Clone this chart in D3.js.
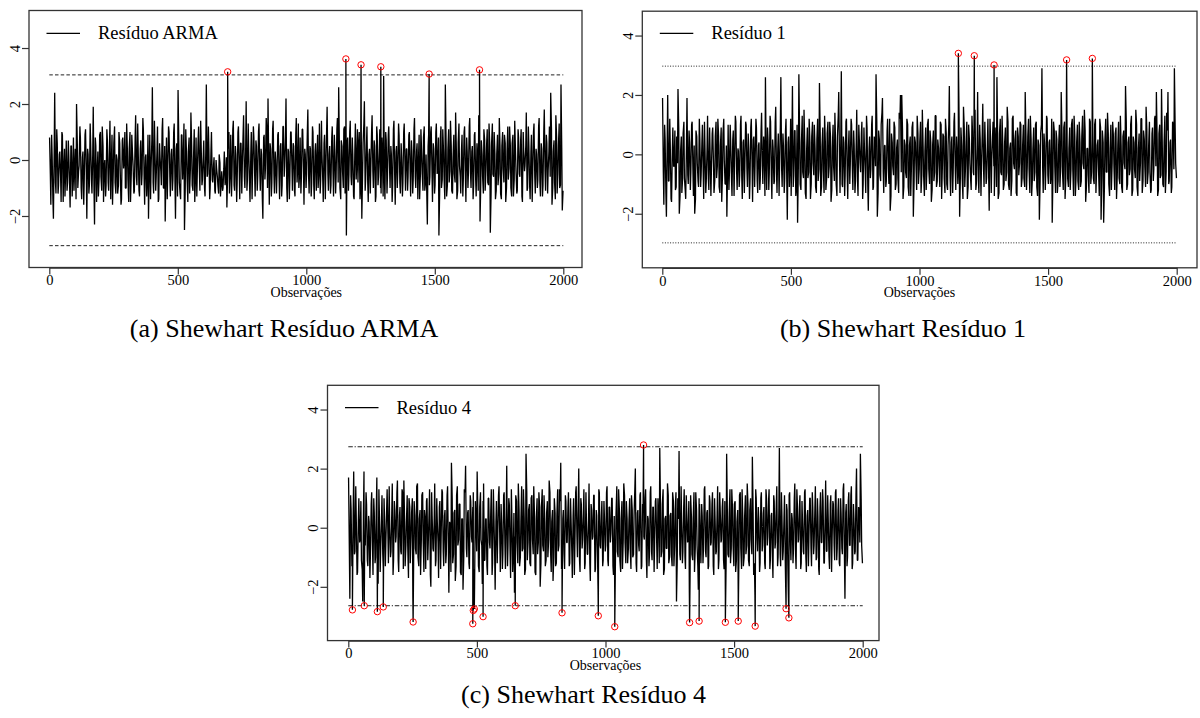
<!DOCTYPE html>
<html><head><meta charset="utf-8">
<script src="https://cdn.jsdelivr.net/npm/d3@7"></script>
<style>
html,body{margin:0;padding:0;background:#fff;}
svg{display:block;}
svg text{font-family:"Liberation Serif","Times New Roman",Times,serif !important;fill:#000;}
</style></head>
<body>
<svg id="chart" width="1200" height="718"></svg>
<script>
// ---------- data ----------
const xTicks = [0, 500, 1000, 1500, 2000];
const yTicks = [-2, 0, 2, 4];
const stepA = 5, startA = 1;   // first array: observations 1, 6, 11, ...
const stepB = 5, startB = 4;   // second array: observations 4, 9, 14, ...

const residuoARMA = [
0.8,-1.6,0.2,-2.1,2.4,-1.2,0.6,-0.9,0.3,-1.5,0.9,-0.4,-1.3,0.7,-0.8,0.1,-1.7,0.5,-0.6,-1.1,
0.4,2.0,-1.0,-0.2,0.8,-1.4,0.3,-0.7,1.1,-2.1,0.2,-0.9,0.6,-1.2,1.9,-2.3,0.5,-0.5,-1.3,0.9,
-0.6,1.2,-1.5,0.0,-0.9,0.7,-1.1,1.4,-0.3,-1.6,0.6,-0.8,0.2,-1.2,1.0,-0.4,-1.4,0.8,-0.1,-1.0,
1.3,-0.7,0.4,-1.5,0.9,-0.2,-1.1,1.6,-0.9,0.3,-1.3,0.7,-0.5,1.1,-1.6,0.2,-0.8,-2.1,0.9,-0.3,
2.6,-1.2,0.5,-0.6,1.2,-1.4,0.1,-0.9,1.5,-1.0,-2.2,0.8,-0.3,1.0,-1.3,0.4,-0.7,1.3,-2.1,0.6,
2.5,-0.8,-1.4,0.9,-0.2,-2.5,1.1,-0.6,0.3,-1.2,1.7,-0.9,0.0,-1.5,0.8,-0.4,1.2,-1.1,0.5,-0.7,
0.7,-1.3,2.7,-0.5,0.4,-1.0,1.0,-0.8,0.1,-1.2,-0.3,-0.9,0.2,-1.3,-0.4,-1.0,0.3,-0.7,-1.7,0.4,
-1.2,0.9,-0.5,1.4,-1.1,0.2,-0.8,1.2,-1.4,0.6,-0.2,1.6,-1.0,2.1,-0.7,0.3,-1.5,1.0,-0.4,0.8,
-1.3,0.5,-0.6,1.3,-1.1,0.2,-2.1,0.9,-0.3,1.1,2.2,-1.6,0.4,-0.8,1.4,-1.2,0.0,-0.5,1.0,-1.4,
0.6,-0.9,1.2,-0.2,2.2,-1.5,0.3,-0.7,1.0,-1.1,0.5,-1.3,1.5,-0.4,-1.0,0.8,-0.6,1.1,-1.6,0.2,
-0.5,1.8,-1.2,0.4,-0.8,1.0,-1.4,0.6,-0.1,-1.0,1.3,-0.7,0.2,-1.5,0.9,-0.3,1.9,-1.1,0.5,-0.9,
1.2,-1.3,0.3,-0.6,1.5,2.6,-1.0,0.7,-0.4,1.1,-1.2,-2.7,0.8,-0.5,1.4,-0.9,0.2,-1.4,1.3,-0.2,
-0.8,1.0,-1.1,-2.1,0.6,2.1,-0.7,1.2,-1.5,0.4,-0.3,1.6,-1.0,0.5,-1.3,0.9,-0.6,1.1,-1.2,0.3,
3.0,-1.4,0.7,-0.5,1.2,-1.0,0.2,-0.9,1.4,-1.6,0.5,-0.4,0.9,-1.2,0.1,-0.8,1.3,-1.1,0.4,-0.6,
1.0,-1.3,0.3,-0.7,1.5,-1.0,0.6,-0.2,-1.4,1.1,-0.5,0.8,-1.1,0.2,-2.3,0.9,-0.6,1.2,-1.5,0.4,
-0.9,1.3,-0.3,-2.7,0.7,-1.0,1.1,-0.6,2.7,-1.3,0.4,-0.8,1.4,-1.1,0.1,-0.5,1.7,-1.4,0.6,-0.2,
-1.2,0.9,-0.7,1.2,-1.5,0.3,-0.4,1.5,-1.0,0.5,-0.9,1.0,-1.3,0.2,1.6,-2.2,0.7,-0.6,1.1,-1.1,
0.4,-0.8,1.3,-2.6,0.6,-0.5,1.0,-1.4,0.2,-0.9,1.5,-1.2,0.5,-0.3,0.9,-1.5,0.3,-0.7,1.2,-1.0,
0.6,-1.3,1.4,-0.4,-1.1,0.8,-0.6,1.1,-1.5,0.3,-0.2,1.7,-1.0,0.5,-1.4,0.9,-0.5,1.3,-1.2,0.2,
-0.7,1.5,-1.3,0.4,-0.9,1.8,-1.1,0.6,-0.4,1.2,2.4,-1.6,0.3,-0.8,1.6,-1.2,0.5,-1.0,2.7,-1.8
];
const residuoARMAb = [
-0.5,0.9,-1.4,0.3,-0.8,1.1,-1.2,0.2,-0.6,1.0,-1.5,0.4,-0.3,-1.1,0.7,-0.9,0.5,-1.3,0.8,-0.2,
-1.4,0.6,-0.4,1.2,-1.0,0.1,-1.6,0.9,-0.5,0.4,-1.2,1.3,-0.7,0.2,-1.1,0.8,-1.5,0.3,-0.6,1.0,
-1.1,0.5,-0.2,-1.3,1.1,-0.8,0.4,-1.4,0.9,-0.4,1.2,-1.2,0.0,-0.9,0.6,-1.6,0.7,-0.3,1.0,-1.0,
0.3,-1.5,1.0,-0.5,0.2,-1.2,0.8,-0.6,1.3,-1.1,0.4,-0.9,1.5,-0.7,0.1,-1.3,0.9,-0.2,-1.4,0.7,
-0.8,1.4,-1.1,0.3,-1.5,0.6,-0.4,1.1,-1.0,0.5,-0.3,-1.4,1.2,-0.6,0.2,-1.1,1.0,-0.8,0.4,-1.3,
0.6,-1.2,0.9,-0.7,1.3,-1.0,0.2,-1.5,0.8,-0.3,0.5,-1.1,1.1,-0.6,-1.3,0.7,-0.4,1.4,-0.9,0.1,
-1.0,0.4,-0.6,1.2,-1.4,0.3,-0.7,-0.2,-1.1,0.0,-0.6,-1.2,-0.1,-0.8,-1.1,-0.3,-0.9,0.1,-0.5,1.0,
-0.4,-1.3,1.1,-0.9,0.5,-1.5,1.0,-0.3,0.6,-1.2,0.9,-0.6,0.3,-1.1,1.3,-0.8,0.2,-1.4,1.2,-0.5,
0.7,-1.1,1.0,-0.4,0.4,-1.4,0.8,-0.7,1.5,-1.0,-0.2,0.6,-1.3,1.1,-0.5,0.3,-1.2,0.9,-0.6,0.5,
-1.3,1.2,-0.6,0.8,-1.0,0.4,-1.4,1.0,-0.2,0.6,-1.1,0.9,-0.8,1.3,-0.5,-1.2,1.1,-0.3,0.4,-1.0,
1.0,-0.6,0.5,-1.3,1.2,-0.9,0.3,-1.1,0.9,-0.4,-1.2,1.4,-0.7,0.6,-1.4,1.0,-0.5,0.2,-1.2,0.8,
-0.5,0.9,-1.2,1.1,-0.8,0.3,-1.4,0.5,-1.0,1.2,-0.3,0.6,-1.1,1.0,-0.6,0.8,-1.3,0.4,-0.7,1.1,
0.6,-1.4,0.8,-0.5,1.3,-1.1,0.5,-0.8,0.2,-1.2,1.0,-0.4,0.7,-1.5,1.2,-0.9,0.4,-1.0,0.8,-1.3,
-0.7,1.0,-1.2,0.9,-0.3,0.5,-1.5,1.1,-0.6,0.3,-1.0,1.3,-0.8,0.6,-1.3,1.0,-0.2,0.4,-1.1,0.9,
-0.4,0.7,-1.2,1.1,-0.6,0.3,-1.4,0.9,-0.5,0.2,-1.1,1.2,-0.8,-1.3,0.5,-0.9,1.0,-0.4,0.6,-1.2,
1.0,-0.5,0.8,-1.1,1.2,-0.7,0.3,-1.4,0.6,-0.9,1.1,-0.4,0.5,-1.2,0.9,-0.8,0.3,-1.1,1.3,-0.6,
0.4,-1.3,1.0,-0.6,0.8,-1.0,1.2,-0.5,0.3,-1.4,0.9,-0.7,0.6,-1.1,1.1,-0.8,0.2,-1.2,0.7,-0.4,
1.1,-0.9,0.5,-1.2,1.3,-0.6,0.2,-1.1,0.9,-0.5,0.4,-1.4,1.0,-0.8,0.6,-1.0,1.2,-0.3,0.5,-1.3,
0.9,-0.7,0.3,-1.2,1.1,-0.5,0.7,-1.3,1.0,-0.4,0.5,-1.1,1.2,-0.9,0.3,-1.5,1.0,-0.6,0.4,-1.0,
1.2,-0.8,0.6,-1.3,1.0,-0.4,0.9,-1.2,0.3,-0.6,1.1,-1.0,0.7,-1.4,0.8,-0.5,1.3,-0.9,0.4,-1.1
];
const residuo1 = [
1.9,-1.7,0.5,-2.1,2.0,-0.9,0.3,-1.6,0.9,-0.4,-1.2,0.6,2.2,-2.0,0.1,-1.3,0.7,-0.8,-1.5,1.9,
-1.0,0.4,-0.6,1.1,-1.4,-2.0,0.8,-0.3,-1.1,0.5,-0.7,1.0,-1.5,0.2,-0.9,1.3,-1.2,0.0,-0.5,0.9,
-1.3,0.6,-0.8,1.2,-1.1,0.3,-1.6,0.7,-0.2,-1.0,-2.1,1.0,-0.6,0.4,-1.4,0.8,-0.3,1.1,-1.2,0.1,
-0.7,1.3,-1.5,0.5,-0.4,1.0,-1.1,0.2,-0.9,1.2,-1.6,0.6,-0.2,0.9,-1.3,0.4,-0.8,1.4,-1.0,0.3,
2.6,-1.2,0.5,-0.6,1.1,-1.5,0.2,-0.9,1.6,-1.3,0.7,-0.4,2.6,-1.1,0.3,-0.8,1.2,-2.2,0.6,-0.5,
-1.4,2.3,-0.7,0.8,-1.2,-2.3,2.7,-1.0,0.4,-0.6,1.5,-1.3,0.1,-0.8,1.2,-1.5,0.6,-0.3,1.0,-1.1,
0.5,-0.9,2.4,-1.4,0.3,-0.5,1.3,-1.2,0.7,-0.8,1.1,-1.6,0.2,-0.4,1.4,-1.0,0.6,2.1,-1.3,2.8,
-1.1,0.4,-0.7,1.2,-1.5,0.8,-0.3,1.0,-1.2,0.3,-0.9,1.5,-1.4,0.5,-0.6,1.1,-1.0,0.2,-1.3,0.9,
-1.9,0.6,-0.5,1.3,-1.1,0.4,2.7,-2.1,0.8,-0.7,1.0,1.9,-1.3,0.3,-0.9,1.2,-1.0,-1.9,0.7,-0.4,
1.1,-1.2,0.2,-0.8,1.4,2.0,2.0,-1.5,0.5,-0.6,1.2,-1.1,0.3,-1.4,0.9,-2.1,0.6,-0.3,1.3,-1.0,
0.4,-1.3,1.5,-0.7,0.1,-1.2,1.0,-0.5,0.8,-1.6,0.3,-0.9,1.3,-1.1,0.5,-0.4,1.1,-1.5,0.7,-0.8,
1.2,-1.0,0.3,2.3,-1.4,0.6,-0.6,1.4,-1.2,0.2,-0.5,-2.1,0.9,-0.8,1.6,-1.1,0.4,-1.5,1.0,-0.3,
-1.2,0.8,-0.7,1.5,-1.0,2.1,-1.3,0.5,-0.4,1.7,-1.1,0.3,-0.8,1.2,-1.9,0.6,-0.2,1.1,-1.4,0.4,
2.6,-1.5,0.7,-0.6,1.3,-1.2,0.4,-0.9,1.6,-1.0,0.2,-1.4,1.2,-0.3,0.5,-1.3,0.9,-0.7,1.1,-1.1,
0.3,-0.8,2.1,-1.2,0.6,-0.5,1.3,-1.4,0.2,-0.9,1.0,-1.1,0.5,-2.2,0.7,2.9,-1.3,0.4,-0.6,1.2,
-1.0,0.5,-0.7,-2.3,1.1,-0.4,0.8,-1.3,0.3,-1.1,2.1,-0.6,0.9,-1.5,1.4,-0.8,0.2,-1.2,1.0,-0.5,
1.3,-1.4,0.4,-0.9,1.1,-1.1,0.6,-0.3,1.5,-1.6,0.2,-0.7,1.2,-1.0,0.5,-0.8,1.0,-1.3,0.3,-0.5,
1.2,-2.2,0.8,-2.3,0.5,-0.6,1.4,-1.0,0.2,-1.2,1.1,-0.4,0.7,-1.5,0.3,-0.8,1.3,-1.1,0.6,-0.3,
2.3,-1.2,0.4,-0.7,1.0,-1.4,0.6,-0.5,1.5,-1.1,0.2,-0.9,1.2,-1.3,0.8,-0.4,1.6,-1.0,0.3,-0.6,
-1.2,0.9,-0.5,1.3,2.1,-1.4,0.7,-0.8,2.2,-1.0,0.4,-1.3,1.4,2.1,-0.9,0.5,-1.1,1.0,2.9,-0.3
];
const residuo1b = [
-0.6,1.0,-1.3,0.4,-0.9,1.2,-1.5,0.1,-0.4,0.8,-1.1,-0.3,0.9,-1.4,0.6,-0.8,1.1,-1.2,0.3,-0.7,
0.8,-1.2,1.0,-0.5,0.3,-1.5,0.6,-0.9,1.2,-1.1,0.4,-0.6,1.1,-1.3,0.2,-0.8,0.9,-1.4,0.7,-0.3,
-0.9,1.1,-0.4,0.6,-1.3,0.9,-0.7,1.2,-1.0,0.3,-0.5,-1.2,1.0,-0.8,0.5,-1.4,1.3,-0.6,0.2,-1.1,
1.0,-0.8,0.4,-1.3,1.1,-0.5,0.7,-1.5,0.9,-0.3,0.5,-1.1,1.2,-0.9,0.3,-1.2,0.8,-0.4,0.6,-1.4,
-0.3,0.9,-1.2,1.3,-0.7,0.5,-1.0,1.1,-0.6,0.2,-1.4,1.0,-0.5,0.7,-1.3,0.8,-0.9,0.4,-1.1,1.2,
0.5,-1.1,0.8,-1.4,1.0,-0.4,0.6,-1.2,1.3,-0.8,0.3,-1.5,0.9,-0.6,0.4,-1.0,1.1,-0.7,0.2,-1.3,
1.2,-0.5,0.7,-1.1,0.9,-1.3,0.4,-0.8,1.1,-0.4,0.6,-1.2,1.0,-0.9,0.3,-1.4,1.3,-0.2,0.5,-1.0,
0.6,-1.4,1.1,-0.7,0.3,-1.0,1.2,-0.5,0.8,-1.3,0.4,-0.9,1.0,-0.3,0.7,-1.5,0.9,-0.6,1.3,-1.1,
0.2,-0.8,1.0,-1.2,0.6,-0.4,1.1,-1.3,0.5,-0.9,1.4,-0.6,0.3,-1.1,0.8,-0.5,1.2,-1.4,0.4,-0.7,
0.9,-1.0,0.5,-1.3,1.2,-0.6,0.8,-1.1,0.3,-0.8,1.0,-1.4,0.6,-0.3,1.1,-0.9,0.4,-1.2,0.7,-0.5,
1.1,-0.7,0.3,-1.4,0.9,-0.5,1.2,-1.0,0.4,-1.2,0.8,-0.6,1.3,-0.9,0.2,-1.1,1.0,-0.4,0.6,-1.3,
0.7,-1.2,1.0,-0.8,0.4,-1.3,1.1,-0.5,0.6,-1.0,1.2,-0.7,0.3,-1.5,0.9,-0.4,1.1,-1.1,0.5,-0.9,
1.3,-0.6,0.8,-1.2,0.2,-0.9,1.0,-1.4,0.7,-0.5,1.1,-1.0,0.4,-0.8,1.2,-1.3,0.6,-0.4,0.9,-1.1,
0.5,-1.3,1.2,-0.7,0.3,-1.0,0.9,-0.6,1.1,-1.2,0.4,-0.9,1.3,-0.5,0.8,-1.4,0.6,-0.3,1.0,-0.8,
1.0,-1.1,0.6,-0.4,1.2,-1.3,0.5,-0.8,0.9,-0.6,1.1,-1.4,0.3,-0.9,1.0,-0.5,0.7,-1.2,1.3,-0.7,
0.4,-1.0,1.2,-0.6,0.8,-1.3,0.5,-0.9,1.0,-0.4,0.7,-1.2,1.1,-0.8,0.3,-1.1,0.9,-0.5,1.2,-1.4,
0.6,-0.7,1.0,-1.2,0.4,-0.9,1.3,-0.5,0.8,-1.1,0.2,-1.3,1.1,-0.6,0.7,-1.0,1.2,-0.4,0.5,-1.4,
0.9,-0.8,0.4,-1.1,1.2,-0.6,0.7,-1.4,1.0,-0.3,0.6,-1.2,0.9,-0.7,1.1,-1.0,0.3,-1.3,0.8,-0.5,
1.1,-1.0,0.6,-0.5,1.3,-1.2,0.4,-0.8,1.0,-1.4,0.7,-0.3,1.2,-0.9,0.5,-1.1,0.8,-0.6,1.1,-1.3,
0.7,-0.9,1.2,-0.4,0.5,-1.2,1.0,-0.7,0.3,-1.1,1.3,-0.6,0.8,-1.0,0.4,-1.3,1.1,-0.5,0.9,-0.8
];
const residuo4 = [
1.7,-2.4,0.6,-1.2,1.9,-0.8,0.3,-1.5,1.0,-0.4,-1.1,-2.5,1.9,-0.6,0.8,-1.3,0.2,-0.9,1.2,-1.6,
0.5,-1.0,1.7,-1.9,0.4,-0.7,1.1,-1.4,0.3,-0.5,1.3,-1.2,0.0,-0.8,1.5,-1.1,0.6,-0.3,1.6,-1.5,
0.7,-0.9,1.2,1.6,-1.3,0.2,-0.6,1.0,-1.2,0.5,-2.4,0.9,-0.7,1.4,-1.0,0.3,-1.6,1.1,-0.4,0.6,
-1.4,1.0,-0.5,1.3,-2.0,0.4,-0.8,1.5,-1.1,0.2,-1.7,0.9,-0.3,1.2,-1.3,0.6,-0.9,1.4,-2.2,0.1,
2.2,-1.2,0.5,-1.8,1.1,-0.6,0.8,-1.5,0.3,-2.1,1.3,2.1,-1.0,0.6,-1.4,0.9,-0.5,1.2,-2.0,0.4,
1.9,-1.3,0.7,-0.4,-1.9,1.5,-1.1,0.3,-1.6,1.0,-0.7,1.3,-1.2,0.5,-2.1,0.9,-0.3,1.4,-1.5,0.2,
-0.9,1.2,-1.4,2.1,-0.6,0.8,-1.7,0.4,-1.0,-2.2,1.1,-0.5,1.5,-1.3,0.2,-0.8,1.3,-1.6,2.5,-1.1,
0.6,-1.2,1.0,-0.4,1.4,-1.5,0.3,-0.9,1.2,-2.0,0.7,-0.6,1.1,-1.3,0.5,-1.0,1.6,-0.7,0.2,-1.8,
1.0,-1.3,0.4,-0.8,1.3,2.2,-1.1,0.6,-1.4,0.9,-0.5,1.2,-1.2,0.3,-1.7,1.0,-0.6,1.4,-1.0,2.0,
-1.5,0.8,-0.4,1.3,-1.2,0.2,-0.9,1.5,-1.8,0.6,-0.3,1.1,-1.4,0.4,-2.1,1.2,-0.7,0.9,-1.1,0.3,
-0.6,1.4,-1.3,0.7,-0.2,1.0,-1.6,-2.4,0.5,-0.8,1.3,-1.1,0.3,-1.4,1.5,-0.5,0.9,-1.2,0.2,-0.7,
1.1,-1.0,0.4,2.0,-1.5,0.6,-0.8,1.2,-1.3,0.5,-0.4,1.3,-1.7,0.3,-0.9,1.4,-1.1,0.7,-0.5,1.0,
-1.4,0.5,2.7,-1.0,0.8,-1.6,0.3,-0.7,1.5,-1.2,0.4,-0.9,1.2,-1.3,0.6,-2.5,1.0,2.6,-1.1,0.2,
-0.8,1.3,-1.4,0.5,-0.4,-2.2,1.1,-0.9,0.3,-1.5,1.2,-0.6,-2.1,0.8,-1.2,0.4,-0.7,1.4,-1.0,0.6,
-1.3,0.9,-0.5,1.2,-1.6,0.3,-0.8,1.4,-1.1,0.6,-0.4,1.0,-1.4,-2.3,2.5,-0.9,0.5,-1.2,1.3,-0.6,
0.8,-1.5,0.2,-2.2,1.1,-0.7,1.3,-1.3,0.4,-0.9,1.5,-1.1,0.6,-0.4,2.4,-1.6,-2.3,1.0,-0.8,0.3,
-1.2,1.2,-0.6,0.7,-1.4,1.0,-0.3,1.3,-1.1,0.5,-1.7,0.9,-0.5,1.4,-1.0,2.7,-1.3,0.4,-0.8,1.1,
-2.2,0.6,-2.3,1.2,-1.1,0.3,-0.7,1.5,-1.4,0.8,-0.4,1.1,-1.2,0.2,-0.9,1.3,-1.5,0.6,-0.3,1.0,
-1.3,0.7,-0.6,1.4,-1.0,0.4,-1.6,1.2,-0.5,0.9,-1.2,1.6,-0.8,0.3,-1.4,1.1,-0.4,0.8,-1.1,1.3,
-0.7,1.0,-1.3,0.5,-0.9,1.5,-2.4,0.8,-1.0,1.2,-0.6,1.4,-1.2,0.3,-0.8,2.0,-1.1,0.6,2.5,-0.6
];
const residuo4b = [
-0.7,1.1,-1.3,0.5,-0.9,1.4,-1.6,0.2,-0.5,0.9,-1.4,0.6,-0.3,1.2,-1.1,0.4,-1.7,0.8,-0.6,1.0,
-1.2,0.7,-0.4,1.3,-1.5,0.3,-0.9,1.0,-1.3,0.6,-0.2,1.4,-1.0,0.5,-1.6,0.9,-0.5,1.2,-1.1,0.4,
-0.8,1.3,-1.4,0.2,-0.6,1.1,-1.7,0.7,-0.3,1.0,-1.2,0.4,-0.9,1.5,-1.3,0.6,-0.4,1.2,-1.5,0.3,
0.9,-1.1,0.5,-1.6,1.2,-0.7,0.3,-1.3,1.0,-0.5,0.7,-1.4,1.3,-0.8,0.4,-1.2,1.1,-0.6,0.2,-1.5,
1.0,-0.9,0.6,-1.3,1.4,-0.4,0.8,-1.6,0.3,-1.0,1.2,-0.7,0.5,-1.2,1.1,-0.3,0.7,-1.4,0.9,-0.8,
0.4,-1.5,1.2,-0.6,0.9,-1.1,0.3,-1.3,1.0,-0.5,0.6,-1.6,1.3,-0.9,0.2,-1.2,1.1,-0.4,0.8,-1.4,
1.1,-0.6,0.4,-1.3,1.0,-0.8,1.3,-1.5,0.5,-0.3,0.9,-1.2,0.6,-1.0,1.4,-0.7,0.3,-1.4,1.2,-0.5,
0.8,-1.3,1.1,-0.9,0.4,-1.6,1.0,-0.5,0.7,-1.2,1.3,-0.8,0.2,-1.1,0.9,-0.4,1.2,-1.5,0.6,-1.0,
0.5,-1.2,1.3,-0.6,0.9,-1.4,0.3,-0.9,1.1,-0.5,0.7,-1.3,1.0,-0.8,0.4,-1.6,1.2,-0.3,0.8,-1.1,
1.0,-0.7,0.5,-1.4,1.2,-0.9,0.3,-1.2,0.8,-0.4,1.1,-1.5,0.6,-1.0,1.3,-0.6,0.4,-1.3,0.9,-0.8,
1.2,-1.1,0.7,-0.5,1.0,-1.3,0.4,-0.8,1.4,-1.0,0.6,-1.5,0.9,-0.4,1.1,-1.2,0.3,-0.7,1.0,-1.4,
0.6,-0.9,1.3,-1.2,0.5,-0.6,1.1,-1.4,0.8,-0.3,1.0,-1.1,0.4,-1.3,1.2,-0.8,0.7,-1.5,0.9,-0.5,
1.0,-1.2,0.6,-0.8,1.3,-1.4,0.4,-0.7,1.1,-1.0,0.5,-1.3,0.9,-0.6,1.2,-1.1,0.3,-0.9,1.4,-1.2,
0.7,-1.0,1.1,-0.5,0.9,-1.5,0.4,-1.1,1.2,-0.7,0.6,-1.3,1.0,-0.4,0.8,-1.2,1.3,-0.8,0.5,-1.4,
1.1,-0.6,0.8,-1.3,1.0,-0.9,0.5,-1.4,1.2,-0.5,0.7,-1.1,0.9,-1.2,0.4,-1.0,1.3,-0.7,0.6,-1.3,
0.9,-1.1,0.6,-0.8,1.2,-1.4,0.3,-1.0,1.1,-0.6,0.8,-1.3,1.0,-0.9,0.5,-1.2,1.3,-0.4,0.7,-1.5,
1.0,-0.8,0.5,-1.2,1.3,-0.6,0.9,-1.4,0.4,-1.0,1.1,-0.7,0.8,-1.3,0.6,-0.9,1.2,-1.1,0.3,-1.2,
0.8,-1.3,1.1,-0.6,0.5,-1.2,1.0,-0.9,1.3,-0.5,0.7,-1.4,0.9,-0.8,1.2,-1.0,0.4,-1.3,1.0,-0.7,
1.2,-0.9,0.6,-1.1,1.0,-1.4,0.7,-0.5,1.3,-1.2,0.4,-0.8,1.1,-1.0,0.8,-1.5,0.9,-0.6,1.2,-1.1,
0.6,-1.2,1.0,-0.7,1.3,-1.0,0.5,-1.3,0.9,-0.6,1.1,-1.4,0.8,-0.9,1.2,-1.1,0.7,-0.5,1.0,-1.2
];

// out-of-control observations (index, value)
const armaOutIdx = [694, 1154, 1213, 1290, 1478, 1674];
const armaOutVal = [3.15, 3.61, 3.40, 3.33, 3.07, 3.22];
const res1OutIdx = [1151, 1213, 1290, 1572, 1672];
const res1OutVal = [3.40, 3.32, 3.01, 3.18, 3.23];
const res4OutIdx = [16, 62, 113, 136, 252, 484, 486, 490, 524, 649, 831, 972, 1036, 1148, 1327, 1364, 1466, 1516, 1582, 1702, 1713];
const res4OutVal = [-2.78, -2.64, -2.84, -2.68, -3.19, -3.25, -2.80, -2.75, -3.01, -2.64, -2.88, -2.98, -3.35, 2.80, -3.21, -3.16, -3.20, -3.16, -3.33, -2.74, -3.05];

// control limits [UCL, LCL]
const armaLimits = [3.04, -3.06];
const res1Limits = [2.97, -2.98];
const res4Limits = [2.74, -2.64];

const legendLabels = ["Resíduo ARMA", "Resíduo 1", "Resíduo 4"];
const captions = ["(a) Shewhart Resíduo ARMA", "(b) Shewhart Resíduo 1", "(c) Shewhart Resíduo 4"];
const xTitle = "Observações";

// ---------- layout ----------
const FONT = "'Liberation Serif','Times New Roman',Times,serif";
const panels = [
  {a: residuoARMA, b: residuoARMAb, outIdx: armaOutIdx, outVal: armaOutVal, limits: armaLimits, dash: "3.5,2.2",
   legend: legendLabels[0], caption: captions[0],
   xr: [49.3, 563.3], box: [29, 582], yDom: [-3.84, 5.34], yr: [267.5, 10.5],
   legY: 33.3, capX: 284, capY: 337},
  {a: residuo1, b: residuo1b, outIdx: res1OutIdx, outVal: res1OutVal, limits: res1Limits, dash: "1,1.6",
   legend: legendLabels[1], caption: captions[1],
   xr: [662.3, 1176.7], box: [642.3, 1197], yDom: [-3.82, 4.82], yr: [267.8, 11.2],
   legY: 33.3, capX: 903, capY: 337},
  {a: residuo4, b: residuo4b, outIdx: res4OutIdx, outVal: res4OutVal, limits: res4Limits, dash: "4.5,1.8,1.2,1.8",
   legend: legendLabels[2], caption: captions[2],
   xr: [348.3, 862.7], box: [327.5, 879], yDom: [-3.82, 4.82], yr: [640.6, 385.3],
   legY: 407.7, capX: 583.5, capY: 703}
];

const svg = d3.select("#chart");

panels.forEach(p => {
  const x = d3.scaleLinear().domain([0, 2000]).range(p.xr);
  const y = d3.scaleLinear().domain(p.yDom).range(p.yr);
  const g = svg.append("g");

  const ptsA = p.a.map((v, i) => ({t: startA + i * stepA, v}));
  const ptsB = p.b.map((v, i) => ({t: startB + i * stepB, v}));
  const outs = p.outIdx.map((t, i) => ({t, v: p.outVal[i]}));
  const all = ptsA.concat(ptsB, outs).sort((m, n) => m.t - n.t);

  p.limits.forEach(L => {
    g.append("line")
      .attr("x1", x(0)).attr("x2", x(2000))
      .attr("y1", y(L)).attr("y2", y(L))
      .attr("stroke", "#222").attr("stroke-width", 1)
      .attr("stroke-dasharray", p.dash);
  });

  g.append("path")
    .datum(all)
    .attr("fill", "none")
    .attr("stroke", "#000")
    .attr("stroke-width", 1.3)
    .attr("stroke-linejoin", "bevel")
    .attr("d", d3.line().x(d => x(d.t)).y(d => y(d.v)));

  g.selectAll("circle.out")
    .data(outs).enter().append("circle")
    .attr("cx", d => x(d.t)).attr("cy", d => y(d.v))
    .attr("r", 3.2)
    .attr("fill", "none").attr("stroke", "#ff0000").attr("stroke-width", 1);

  g.append("rect")
    .attr("x", p.box[0]).attr("y", p.yr[1])
    .attr("width", p.box[1] - p.box[0]).attr("height", p.yr[0] - p.yr[1])
    .attr("fill", "none").attr("stroke", "#333").attr("stroke-width", 1.3);

  const xa = g.append("g")
    .attr("transform", `translate(0,${p.yr[0]})`)
    .call(d3.axisBottom(x).tickValues(xTicks).tickSize(7).tickSizeOuter(0).tickPadding(0.5)
      .tickFormat(d3.format("d")));
  xa.attr("font-family", FONT);
  xa.select(".domain").attr("stroke", "#333").attr("stroke-width", 1.3);
  xa.selectAll(".tick line").attr("stroke", "#333").attr("stroke-width", 1.2);
  xa.selectAll(".tick text").attr("font-size", 14.5)
    .attr("font-family", FONT).attr("fill", "#000");

  g.append("text")
    .attr("x", (x(0) + x(2000)) / 2).attr("y", p.yr[0] + 29)
    .attr("text-anchor", "middle").attr("font-size", 14)
    .attr("font-family", FONT)
    .text(xTitle);

  const ya = g.append("g")
    .attr("transform", `translate(${p.box[0]},0)`)
    .call(d3.axisLeft(y).tickValues(yTicks).tickSize(7).tickSizeOuter(0).tickFormat(d3.format("d")));
  ya.attr("font-family", FONT);
  ya.select(".domain").remove();
  ya.selectAll(".tick line").attr("stroke", "#333").attr("stroke-width", 1.2);
  ya.selectAll(".tick text")
    .attr("font-size", 14.5)
    .attr("font-family", FONT).attr("fill", "#000")
    .attr("text-anchor", "middle")
    .attr("x", null).attr("dy", null)
    .attr("dominant-baseline", "central")
    .attr("transform", "translate(-14.5,0) rotate(-90)");

  g.append("line")
    .attr("x1", p.box[0] + 17.5).attr("x2", p.box[0] + 51)
    .attr("y1", p.legY).attr("y2", p.legY)
    .attr("stroke", "#000").attr("stroke-width", 1.2);
  g.append("text")
    .attr("x", p.box[0] + 69).attr("y", p.legY)
    .attr("dy", "0.33em").attr("font-size", 18.5)
    .attr("font-family", FONT)
    .text(p.legend);

  svg.append("text")
    .attr("x", p.capX).attr("y", p.capY)
    .attr("text-anchor", "middle").attr("font-size", 26)
    .attr("font-family", FONT)
    .text(p.caption);
});
</script>
</body></html>
